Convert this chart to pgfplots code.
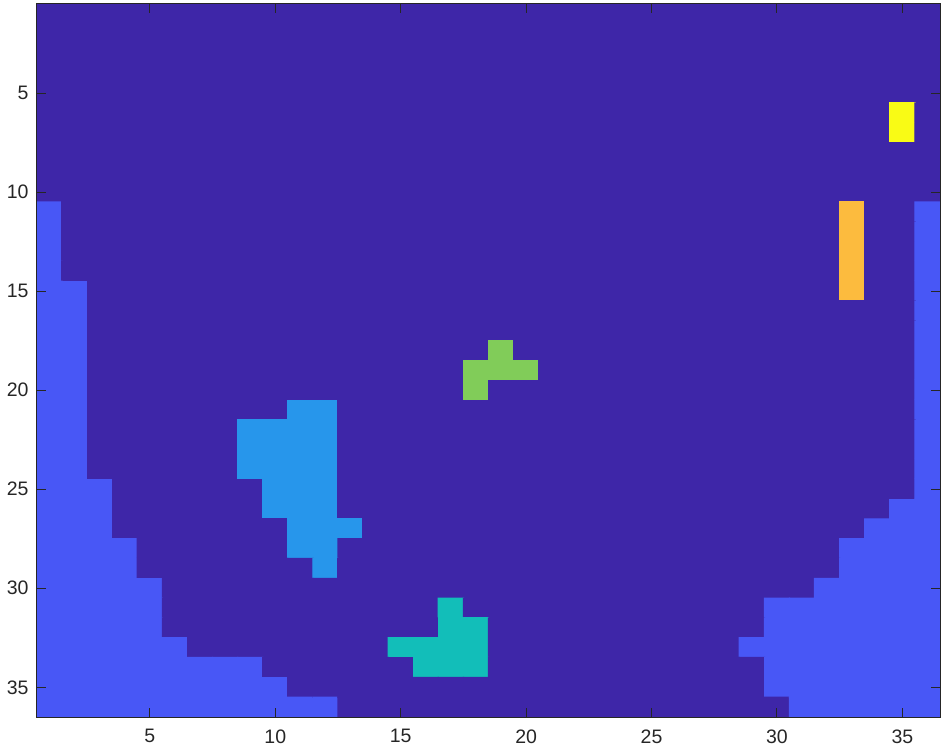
\documentclass[border=0pt]{standalone}
\usepackage{pgfplots}
\pgfplotsset{compat=1.18}
\usepackage{fontspec}
\setmainfont{Liberation Sans}
\definecolor{axgray}{RGB}{38,38,38}
\definecolor{bgpurple}{RGB}{62,38,168}
\begin{document}
\begin{tikzpicture}
\begin{axis}[
  scale only axis, width=903pt, height=713pt,
  xmin=0.5, xmax=36.5, ymin=0.5, ymax=36.5,
  y dir=reverse,
  axis on top,
  axis background/.style={fill=bgpurple},
  xtick={5,10,...,35}, ytick={5,10,...,35},
  tick align=inside,
  major tick length=9pt,
  xtick pos=both, ytick pos=both,
  xticklabel shift=9pt, yticklabel shift=5pt,
  axis line style={axgray, line width=1pt},
  tick style={axgray, line width=1pt},
  ticklabel style={font=\fontsize{19.5}{23}\selectfont, text=axgray},
  /pgf/number format/assume math mode=true,
  colormap={parula7}{rgb255=(62,38,168) rgb255=(72,87,246) rgb255=(39,150,235) rgb255=(18,190,185) rgb255=(129,204,89) rgb255=(252,187,62) rgb255=(249,251,21)},
  point meta min=0, point meta max=6,
]
\addplot[matrix plot*, shader=faceted, faceted color=mapped color, line width=1.2pt, mesh/cols=36, mesh/rows=36, point meta=explicit]
 table[header=false, row sep=\\, meta index=0,
   x expr={\coordindex+1-36*floor((\coordindex+0.5)/36)},
   y expr={floor((\coordindex+0.5)/36)+1}] {
0\\0\\0\\0\\0\\0\\ 0\\0\\0\\0\\0\\0\\ 0\\0\\0\\0\\0\\0\\ 0\\0\\0\\0\\0\\0\\ 0\\0\\0\\0\\0\\0\\ 0\\0\\0\\0\\0\\0\\
0\\0\\0\\0\\0\\0\\ 0\\0\\0\\0\\0\\0\\ 0\\0\\0\\0\\0\\0\\ 0\\0\\0\\0\\0\\0\\ 0\\0\\0\\0\\0\\0\\ 0\\0\\0\\0\\0\\0\\
0\\0\\0\\0\\0\\0\\ 0\\0\\0\\0\\0\\0\\ 0\\0\\0\\0\\0\\0\\ 0\\0\\0\\0\\0\\0\\ 0\\0\\0\\0\\0\\0\\ 0\\0\\0\\0\\0\\0\\
0\\0\\0\\0\\0\\0\\ 0\\0\\0\\0\\0\\0\\ 0\\0\\0\\0\\0\\0\\ 0\\0\\0\\0\\0\\0\\ 0\\0\\0\\0\\0\\0\\ 0\\0\\0\\0\\0\\0\\
0\\0\\0\\0\\0\\0\\ 0\\0\\0\\0\\0\\0\\ 0\\0\\0\\0\\0\\0\\ 0\\0\\0\\0\\0\\0\\ 0\\0\\0\\0\\0\\0\\ 0\\0\\0\\0\\0\\0\\
0\\0\\0\\0\\0\\0\\ 0\\0\\0\\0\\0\\0\\ 0\\0\\0\\0\\0\\0\\ 0\\0\\0\\0\\0\\0\\ 0\\0\\0\\0\\0\\0\\ 0\\0\\0\\0\\6\\0\\
0\\0\\0\\0\\0\\0\\ 0\\0\\0\\0\\0\\0\\ 0\\0\\0\\0\\0\\0\\ 0\\0\\0\\0\\0\\0\\ 0\\0\\0\\0\\0\\0\\ 0\\0\\0\\0\\6\\0\\
0\\0\\0\\0\\0\\0\\ 0\\0\\0\\0\\0\\0\\ 0\\0\\0\\0\\0\\0\\ 0\\0\\0\\0\\0\\0\\ 0\\0\\0\\0\\0\\0\\ 0\\0\\0\\0\\0\\0\\
0\\0\\0\\0\\0\\0\\ 0\\0\\0\\0\\0\\0\\ 0\\0\\0\\0\\0\\0\\ 0\\0\\0\\0\\0\\0\\ 0\\0\\0\\0\\0\\0\\ 0\\0\\0\\0\\0\\0\\
0\\0\\0\\0\\0\\0\\ 0\\0\\0\\0\\0\\0\\ 0\\0\\0\\0\\0\\0\\ 0\\0\\0\\0\\0\\0\\ 0\\0\\0\\0\\0\\0\\ 0\\0\\0\\0\\0\\0\\
1\\0\\0\\0\\0\\0\\ 0\\0\\0\\0\\0\\0\\ 0\\0\\0\\0\\0\\0\\ 0\\0\\0\\0\\0\\0\\ 0\\0\\0\\0\\0\\0\\ 0\\0\\5\\0\\0\\1\\
1\\0\\0\\0\\0\\0\\ 0\\0\\0\\0\\0\\0\\ 0\\0\\0\\0\\0\\0\\ 0\\0\\0\\0\\0\\0\\ 0\\0\\0\\0\\0\\0\\ 0\\0\\5\\0\\0\\1\\
1\\0\\0\\0\\0\\0\\ 0\\0\\0\\0\\0\\0\\ 0\\0\\0\\0\\0\\0\\ 0\\0\\0\\0\\0\\0\\ 0\\0\\0\\0\\0\\0\\ 0\\0\\5\\0\\0\\1\\
1\\0\\0\\0\\0\\0\\ 0\\0\\0\\0\\0\\0\\ 0\\0\\0\\0\\0\\0\\ 0\\0\\0\\0\\0\\0\\ 0\\0\\0\\0\\0\\0\\ 0\\0\\5\\0\\0\\1\\
1\\1\\0\\0\\0\\0\\ 0\\0\\0\\0\\0\\0\\ 0\\0\\0\\0\\0\\0\\ 0\\0\\0\\0\\0\\0\\ 0\\0\\0\\0\\0\\0\\ 0\\0\\5\\0\\0\\1\\
1\\1\\0\\0\\0\\0\\ 0\\0\\0\\0\\0\\0\\ 0\\0\\0\\0\\0\\0\\ 0\\0\\0\\0\\0\\0\\ 0\\0\\0\\0\\0\\0\\ 0\\0\\0\\0\\0\\1\\
1\\1\\0\\0\\0\\0\\ 0\\0\\0\\0\\0\\0\\ 0\\0\\0\\0\\0\\0\\ 0\\0\\0\\0\\0\\0\\ 0\\0\\0\\0\\0\\0\\ 0\\0\\0\\0\\0\\1\\
1\\1\\0\\0\\0\\0\\ 0\\0\\0\\0\\0\\0\\ 0\\0\\0\\0\\0\\0\\ 4\\0\\0\\0\\0\\0\\ 0\\0\\0\\0\\0\\0\\ 0\\0\\0\\0\\0\\1\\
1\\1\\0\\0\\0\\0\\ 0\\0\\0\\0\\0\\0\\ 0\\0\\0\\0\\0\\4\\ 4\\4\\0\\0\\0\\0\\ 0\\0\\0\\0\\0\\0\\ 0\\0\\0\\0\\0\\1\\
1\\1\\0\\0\\0\\0\\ 0\\0\\0\\0\\0\\0\\ 0\\0\\0\\0\\0\\4\\ 0\\0\\0\\0\\0\\0\\ 0\\0\\0\\0\\0\\0\\ 0\\0\\0\\0\\0\\1\\
1\\1\\0\\0\\0\\0\\ 0\\0\\0\\0\\2\\2\\ 0\\0\\0\\0\\0\\0\\ 0\\0\\0\\0\\0\\0\\ 0\\0\\0\\0\\0\\0\\ 0\\0\\0\\0\\0\\1\\
1\\1\\0\\0\\0\\0\\ 0\\0\\2\\2\\2\\2\\ 0\\0\\0\\0\\0\\0\\ 0\\0\\0\\0\\0\\0\\ 0\\0\\0\\0\\0\\0\\ 0\\0\\0\\0\\0\\1\\
1\\1\\0\\0\\0\\0\\ 0\\0\\2\\2\\2\\2\\ 0\\0\\0\\0\\0\\0\\ 0\\0\\0\\0\\0\\0\\ 0\\0\\0\\0\\0\\0\\ 0\\0\\0\\0\\0\\1\\
1\\1\\0\\0\\0\\0\\ 0\\0\\2\\2\\2\\2\\ 0\\0\\0\\0\\0\\0\\ 0\\0\\0\\0\\0\\0\\ 0\\0\\0\\0\\0\\0\\ 0\\0\\0\\0\\0\\1\\
1\\1\\1\\0\\0\\0\\ 0\\0\\0\\2\\2\\2\\ 0\\0\\0\\0\\0\\0\\ 0\\0\\0\\0\\0\\0\\ 0\\0\\0\\0\\0\\0\\ 0\\0\\0\\0\\0\\1\\
1\\1\\1\\0\\0\\0\\ 0\\0\\0\\2\\2\\2\\ 0\\0\\0\\0\\0\\0\\ 0\\0\\0\\0\\0\\0\\ 0\\0\\0\\0\\0\\0\\ 0\\0\\0\\0\\1\\1\\
1\\1\\1\\0\\0\\0\\ 0\\0\\0\\0\\2\\2\\ 2\\0\\0\\0\\0\\0\\ 0\\0\\0\\0\\0\\0\\ 0\\0\\0\\0\\0\\0\\ 0\\0\\0\\1\\1\\1\\
1\\1\\1\\1\\0\\0\\ 0\\0\\0\\0\\2\\2\\ 0\\0\\0\\0\\0\\0\\ 0\\0\\0\\0\\0\\0\\ 0\\0\\0\\0\\0\\0\\ 0\\0\\1\\1\\1\\1\\
1\\1\\1\\1\\0\\0\\ 0\\0\\0\\0\\0\\2\\ 0\\0\\0\\0\\0\\0\\ 0\\0\\0\\0\\0\\0\\ 0\\0\\0\\0\\0\\0\\ 0\\0\\1\\1\\1\\1\\
1\\1\\1\\1\\1\\0\\ 0\\0\\0\\0\\0\\0\\ 0\\0\\0\\0\\0\\0\\ 0\\0\\0\\0\\0\\0\\ 0\\0\\0\\0\\0\\0\\ 0\\1\\1\\1\\1\\1\\
1\\1\\1\\1\\1\\0\\ 0\\0\\0\\0\\0\\0\\ 0\\0\\0\\0\\3\\0\\ 0\\0\\0\\0\\0\\0\\ 0\\0\\0\\0\\0\\1\\ 1\\1\\1\\1\\1\\1\\
1\\1\\1\\1\\1\\0\\ 0\\0\\0\\0\\0\\0\\ 0\\0\\0\\0\\3\\3\\ 0\\0\\0\\0\\0\\0\\ 0\\0\\0\\0\\0\\1\\ 1\\1\\1\\1\\1\\1\\
1\\1\\1\\1\\1\\1\\ 0\\0\\0\\0\\0\\0\\ 0\\0\\3\\3\\3\\3\\ 0\\0\\0\\0\\0\\0\\ 0\\0\\0\\0\\1\\1\\ 1\\1\\1\\1\\1\\1\\
1\\1\\1\\1\\1\\1\\ 1\\1\\1\\0\\0\\0\\ 0\\0\\0\\3\\3\\3\\ 0\\0\\0\\0\\0\\0\\ 0\\0\\0\\0\\0\\1\\ 1\\1\\1\\1\\1\\1\\
1\\1\\1\\1\\1\\1\\ 1\\1\\1\\1\\0\\0\\ 0\\0\\0\\0\\0\\0\\ 0\\0\\0\\0\\0\\0\\ 0\\0\\0\\0\\0\\1\\ 1\\1\\1\\1\\1\\1\\
1\\1\\1\\1\\1\\1\\ 1\\1\\1\\1\\1\\1\\ 0\\0\\0\\0\\0\\0\\ 0\\0\\0\\0\\0\\0\\ 0\\0\\0\\0\\0\\0\\ 1\\1\\1\\1\\1\\1\\
};
\end{axis}
\pgfresetboundingbox
\path[use as bounding box] ([shift={(-37pt,-34pt)}]current axis.south west) rectangle ([shift={(5pt,4pt)}]current axis.north east);
\end{tikzpicture}
\end{document}
